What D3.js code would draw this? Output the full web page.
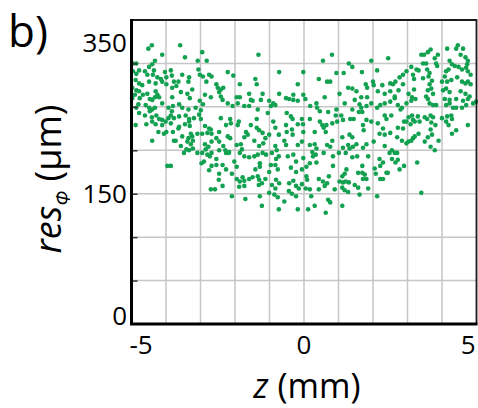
<!DOCTYPE html>
<html>
<head>
<meta charset="utf-8">
<script src="https://cdn.jsdelivr.net/npm/d3@7"></script>
<style>
  body { margin: 0; background: #fff; }
  svg { display: block; font-family: "Open Sans", "DejaVu Sans", sans-serif; }
</style>
</head>
<body>
<svg id="chart" width="478" height="408"></svg>
<script>
// Axial position z (mm) of each measured event
const zMm = [
  -4.41,-4.51,-3.59,-4.11,-3.45,-2.95,-3.08,-2.82,-4.32,-4.40,-4.49,-4.96,-4.86,-4.78,-4.86,-4.96,-4.61,-4.54,-4.35,-4.38,
  -4.25,-4.15,-4.03,-3.99,-3.86,-3.83,-3.53,-3.33,-3.35,-3.06,-3.02,-2.93,-2.75,-2.68,-4.88,-4.78,-4.69,-4.49,-4.30,-4.11,
  -3.99,-3.77,-3.64,-3.70,-2.83,-2.54,-4.98,-4.86,-4.90,-4.78,-4.67,-4.76,-4.54,-4.47,-4.40,-4.30,-4.25,-4.20,-4.32,-3.82,
  -3.82,-3.57,-3.38,-3.24,-3.31,-3.02,-2.93,-2.87,-2.70,-4.98,-4.80,-4.86,-4.59,-4.49,-4.40,-4.32,-4.11,-3.93,-3.80,-3.83,
  -3.62,-3.53,-3.35,-3.14,-2.99,-4.78,-4.61,-4.47,-4.41,-4.28,-4.20,-4.11,-3.93,-3.86,-3.77,-3.62,-3.43,-3.33,-3.19,-3.04,
  -2.99,-1.32,-2.21,-2.05,-0.72,-0.02,-1.41,-1.37,-1.86,-2.50,-2.41,-2.34,-2.46,-0.18,-2.41,-2.36,-2.21,-2.07,-1.95,-1.86,
  -1.92,-1.59,-1.54,-1.49,-1.20,-1.25,-0.72,-1.01,-0.89,-0.83,-0.96,-0.52,-0.43,-0.31,-0.31,-0.18,-0.02,0.04,-1.73,-1.59,
  -1.34,-1.05,-2.41,-2.14,-1.89,-1.37,-0.50,-0.38,-0.33,-0.06,-0.89,0.81,0.55,1.30,1.40,1.95,2.44,2.12,0.94,1.15,
  1.68,0.43,0.67,0.76,1.79,1.83,2.00,2.02,2.27,2.50,1.28,1.40,1.52,2.14,1.03,2.34,2.50,0.60,1.47,1.66,
  1.83,0.36,0.38,0.46,0.18,1.18,1.61,1.66,1.81,1.95,2.12,2.21,2.34,2.50,0.94,0.70,1.40,1.59,1.69,2.34,
  2.39,0.17,0.46,0.92,1.08,1.13,0.96,1.34,1.44,1.81,1.95,3.40,3.48,3.59,3.67,3.88,3.79,4.15,4.46,4.41,
  4.61,4.54,4.68,4.75,4.73,3.45,3.54,3.83,3.86,4.22,4.29,4.37,3.11,3.26,3.32,3.57,3.64,3.61,4.12,4.19,
  4.08,4.48,4.58,4.70,4.75,4.83,2.97,2.87,2.77,2.65,2.58,3.16,3.19,3.45,3.71,3.64,3.69,4.00,4.15,4.27,
  4.44,4.58,4.68,4.75,4.83,2.87,2.74,2.63,3.19,3.03,3.13,3.23,3.59,3.54,3.59,3.74,4.03,4.12,4.22,4.54,
  4.68,4.80,4.08,4.22,4.41,4.61,4.75,2.63,4.90,4.99,2.72,2.84,2.80,2.97,3.11,3.64,3.74,3.83,4.12,4.22,
  4.32,4.41,4.58,4.70,2.53,3.03,3.13,3.16,3.30,3.50,3.57,3.67,3.74,4.00,4.15,4.27,4.29,2.90,3.09,-4.88,
  -4.57,-4.40,-4.30,-4.11,-4.01,-3.86,-3.62,-4.22,-4.06,-3.99,-3.80,-3.64,-3.45,-3.31,-3.33,-4.40,-3.77,-3.72,-3.53,-3.28,
  -3.24,-3.35,-3.38,-3.22,-3.28,-3.09,-2.95,-2.87,-2.75,-2.80,-2.68,-2.70,-3.57,-3.41,-3.48,-3.33,-3.22,-3.09,-2.95,-2.80,
  -2.87,-2.77,-2.85,-2.68,-2.54,-3.96,-3.86,-2.90,-2.97,-2.75,-2.68,-2.54,-2.54,-2.70,-2.58,-2.68,-2.73,-2.26,-2.12,-1.92,
  -1.54,-1.37,-1.30,-0.83,-0.52,-0.35,-0.18,-0.02,-2.46,-2.21,-2.14,-1.68,-1.63,-1.73,-1.20,-1.12,-1.01,-0.73,-0.50,-0.33,
  -0.57,-0.52,-2.46,-2.34,-2.28,-2.26,-1.95,-1.83,-1.80,-1.86,-1.44,-1.30,-1.18,-0.83,-0.79,-0.18,-0.06,-2.46,-2.17,-2.18,
  -1.73,-1.59,-1.44,-1.34,-1.20,-1.10,-0.93,-0.73,-0.81,-0.47,-0.31,-0.23,-0.02,-2.36,-2.26,-2.02,-1.95,-1.28,-1.28,-1.41,
  -0.96,-0.83,-0.76,-1.01,-0.38,-0.23,-0.06,-2.09,-2.46,-1.95,-1.86,-1.73,-1.78,-1.59,-1.49,-1.34,-1.30,-1.12,-0.81,-0.72,
  -0.93,-0.83,-0.43,-0.31,-0.23,-0.15,-0.06,-2.36,-2.47,-1.88,-1.73,-1.31,-1.22,-1.01,-0.86,-0.44,-0.35,-0.23,-2.09,-1.70,
  -1.28,-0.76,-0.57,-1.22,-0.73,-0.18,-0.03,0.53,0.65,0.82,0.31,0.57,0.63,1.32,1.40,1.11,1.71,1.73,2.14,2.29,
  2.19,2.34,2.50,0.17,0.31,0.36,0.24,0.34,0.26,0.67,0.76,0.82,1.28,1.32,1.13,1.42,1.52,1.71,1.81,2.02,
  2.34,0.57,0.84,1.01,1.21,1.40,1.54,1.86,2.19,2.29,2.21,0.17,0.36,0.07,0.84,1.23,1.18,1.11,1.69,1.57,
  1.69,1.76,1.71,1.81,2.05,2.08,2.39,2.21,2.29,0.07,0.09,0.43,0.55,0.67,0.60,0.72,1.03,1.13,1.21,1.30,
  0.05,0.17,0.43,0.89,1.11,1.18,1.28,1.47,1.57,1.86,1.61,2.12,0.21,0.70,0.76,0.31,0.12,0.63,1.11,2.72,
  2.87,2.97,3.21,3.35,3.69,3.67,3.81,4.12,4.19,4.75,4.41,4.29,2.70,2.84,2.97,3.03,3.11,3.16,3.21,3.32,
  3.50,3.59,3.71,3.90,3.67,3.79,2.55,2.63,2.70,2.48,2.55,2.65,2.72,2.77,2.90,2.43,3.28,3.40
];

// Azimuthal resolution res_Φ (µm) of the same events
const resUm = [
  321,317,321,310,307,313,303,303,303,299,296,300,300,292,288,291,291,287,292,287,
  284,282,290,284,292,286,287,284,279,293,287,285,287,285,281,277,275,279,277,279,
  276,279,279,274,279,276,272,269,264,268,264,260,265,259,258,268,264,261,261,272,
  261,267,265,270,260,257,253,264,261,260,253,249,252,249,247,249,254,249,251,245,
  253,249,247,249,246,243,240,245,238,240,236,235,237,240,237,239,240,236,237,241,
  236,310,290,286,290,290,282,276,276,272,270,272,267,276,262,258,254,251,261,261,
  254,265,258,257,265,258,265,257,254,252,251,260,259,264,258,257,264,259,251,251,
  247,243,237,236,233,236,243,239,236,236,233,310,303,300,296,303,306,292,289,289,
  290,282,279,279,276,272,279,275,275,277,272,271,268,268,265,265,268,261,258,261,
  261,254,249,245,251,254,253,249,251,254,249,252,254,256,247,244,247,244,244,240,
  236,236,233,240,240,235,233,236,236,235,233,310,310,313,316,310,306,317,321,317,
  317,310,307,303,299,300,300,300,297,303,299,297,296,293,292,293,289,285,291,293,
  285,296,293,295,291,287,291,287,284,279,276,287,282,283,280,276,271,279,279,281,
  284,279,277,279,276,276,269,262,270,265,261,259,269,262,259,265,269,271,267,268,
  265,262,259,258,259,257,259,260,254,256,252,249,247,254,257,254,252,252,252,254,
  249,249,249,252,240,238,240,235,239,238,236,240,238,237,239,240,236,233,230,229,
  230,233,230,229,233,231,227,221,219,221,221,225,230,228,233,211,211,211,216,219,
  216,214,210,211,207,219,219,228,225,220,219,224,205,201,197,200,202,197,197,195,
  207,204,201,210,214,182,182,187,185,177,182,183,190,155,155,197,193,229,231,229,
  229,226,223,226,229,224,230,221,221,216,214,221,218,215,220,214,218,218,221,218,
  211,206,210,205,200,197,206,207,201,197,211,205,208,205,200,206,210,200,198,197,
  193,192,193,195,197,195,197,193,190,193,195,187,191,183,178,187,181,185,181,178,
  183,183,178,175,180,175,178,173,173,167,164,165,169,167,169,170,166,167,166,162,
  160,156,162,165,159,156,161,159,166,158,159,160,162,151,149,153,150,147,147,144,
  147,146,141,136,132,132,230,229,229,231,221,226,221,218,215,215,229,223,231,225,
  219,218,220,206,207,202,198,195,193,206,204,211,206,202,203,204,207,203,207,210,
  205,197,193,197,197,192,193,193,190,186,182,185,186,181,182,178,173,170,182,174,
  174,172,167,167,179,173,174,167,167,170,166,167,164,162,159,170,164,163,164,163,
  156,155,155,155,157,154,152,160,157,156,149,147,147,143,140,136,132,128,136,226,
  225,233,233,233,232,224,229,233,229,229,223,219,215,211,208,210,211,214,216,219,
  210,215,218,211,204,200,200,197,197,197,190,186,189,178,182,174,186,151
];

// Axis ticks and grid positions
const zTickLabels = [-5, 0, 5];
const resTickLabels = [0, 150, 350];
const zGrid = [-4, -3, -2, -1, 0, 1, 2, 3, 4];
const resGrid = [50, 100, 150, 200, 250, 300];
const zDomain = [-5, 5];
const resDomain = [0, 350];

const svg = d3.select("#chart");
const x = d3.scaleLinear().domain(zDomain).range([131.5, 476.5]);
const y = d3.scaleLinear().domain(resDomain).range([324, 20]);

// grid
const grid = svg.append("g").attr("stroke", "#c6c6c6").attr("stroke-width", 1.5);
grid.selectAll("line.v").data(zGrid).join("line")
  .attr("x1", d => x(d)).attr("x2", d => x(d))
  .attr("y1", y(resDomain[0])).attr("y2", y(resDomain[1]));
grid.selectAll("line.h").data(resGrid).join("line")
  .attr("x1", x(zDomain[0])).attr("x2", x(zDomain[1]))
  .attr("y1", d => y(d)).attr("y2", d => y(d));

// scatter
const pts = zMm.map((z, i) => ({ z, r: resUm[i] }));
svg.append("g").selectAll("circle").data(pts).join("circle")
  .attr("cx", d => x(d.z)).attr("cy", d => y(d.r))
  .attr("r", 2.3).attr("fill", "#12a150");

// frame: top and right
svg.append("path")
  .attr("d", `M${x(zDomain[0])},${y(resDomain[1])}H${x(zDomain[1])}V${y(resDomain[0])}`)
  .attr("fill", "none").attr("stroke", "#1a1a1a").attr("stroke-width", 1.8);

// inward ticks on the left axis
svg.append("g").attr("transform", `translate(${x(zDomain[0])},0)`)
  .call(d3.axisLeft(y).tickValues(resGrid).tickSize(-6).tickFormat(""))
  .call(g => g.select(".domain").remove())
  .call(g => g.selectAll(".tick line").attr("stroke", "#333").attr("stroke-width", 1.5));

// left and bottom axis lines
svg.append("path")
  .attr("d", `M${x(zDomain[0])},${y(resDomain[1]) - 1}V${y(resDomain[0])}H${x(zDomain[1]) + 1}`)
  .attr("fill", "none").attr("stroke", "#000").attr("stroke-width", 3);

// tick labels
svg.append("g").attr("font-size", 26).attr("fill", "#000")
  .selectAll("text").data(zTickLabels).join("text")
  .attr("x", d => d === zDomain[0] ? x(d) - 2 : d === zDomain[1] ? x(d) - 1 : x(d))
  .attr("y", 353.5)
  .attr("text-anchor", d => d === zDomain[0] ? "start" : d === zDomain[1] ? "end" : "middle")
  .text(d => d);

svg.append("g").attr("font-size", 26).attr("fill", "#000")
  .selectAll("text").data(resTickLabels).join("text")
  .attr("x", 127)
  .attr("y", d => d === resDomain[1] ? y(d) + 32 : d === resDomain[0] ? y(d) + 1 : y(d) + 9.5)
  .attr("text-anchor", "end")
  .text(d => d);

// axis titles
const xt = svg.append("text").attr("x", 307).attr("y", 397.5)
  .attr("text-anchor", "middle").attr("font-size", 34);
xt.append("tspan").attr("font-style", "italic").text("z");
xt.append("tspan").text(" (mm)");

const yt = svg.append("text").attr("transform", "translate(61,179) rotate(-90)")
  .attr("text-anchor", "middle").attr("font-size", 36);
yt.append("tspan").attr("font-style", "italic").text("res");
yt.append("tspan").attr("font-style", "italic").attr("font-size", 20).attr("dy", 9).text("Φ");
yt.append("tspan").attr("dy", -9).text(" (µm)");

// panel label
svg.append("text").attr("x", 8).attr("y", 47).attr("font-size", 44).text("b)");
</script>
</body>
</html>
